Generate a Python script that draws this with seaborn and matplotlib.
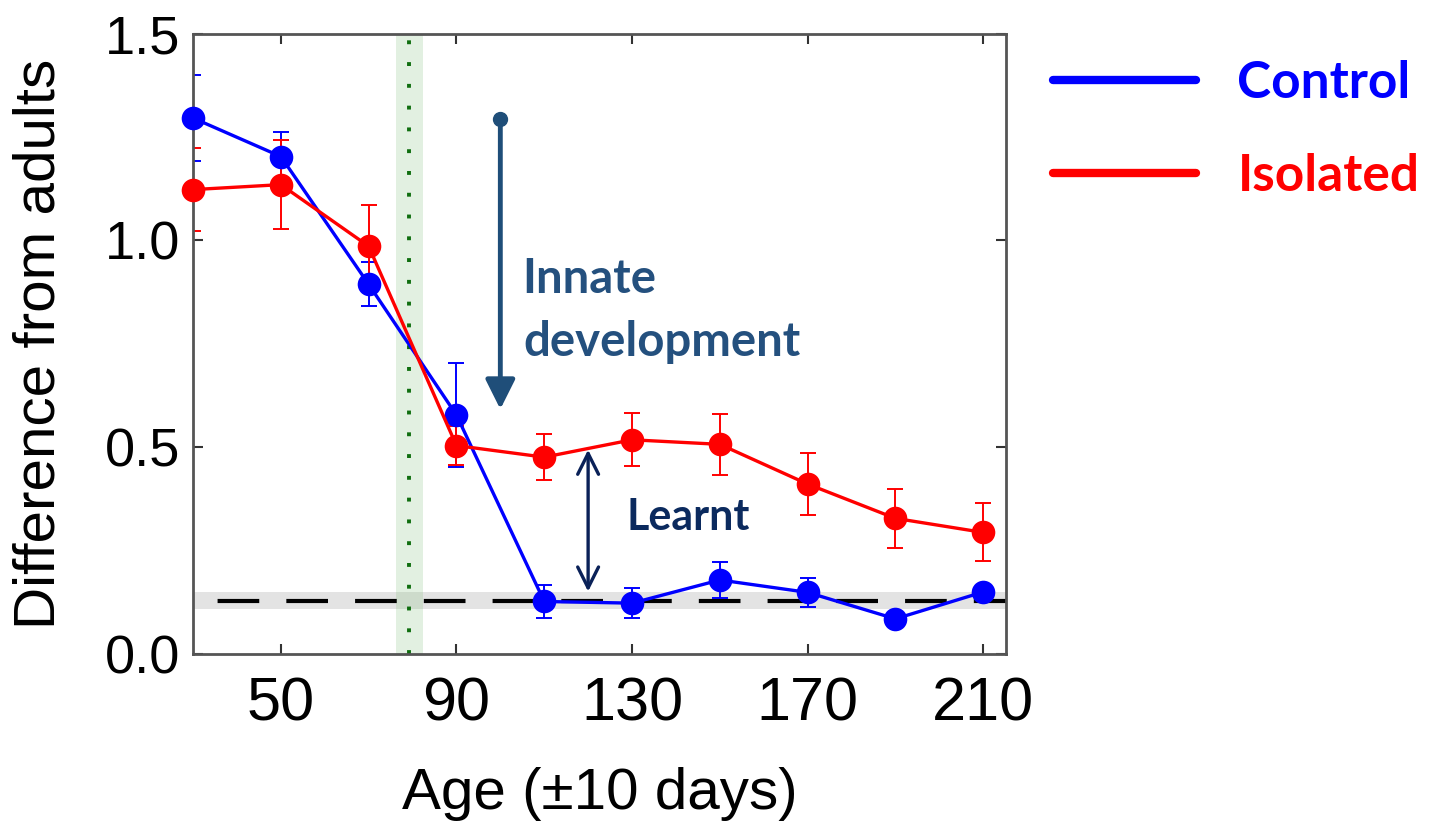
import numpy as np
import pandas as pd
import matplotlib
matplotlib.use("Agg")
import matplotlib.pyplot as plt
from matplotlib.lines import Line2D
import seaborn as sns

# ---- data ----
ages = [30, 50, 70, 90, 110, 130, 150, 170, 190, 210]
control_mean = [1.296, 1.203, 0.894, 0.578, 0.127, 0.123, 0.179, 0.149, 0.085, 0.150]
control_err = [0.105, 0.06, 0.053, 0.125, 0.040, 0.036, 0.044, 0.035, 0.012, 0.015]
isolated_mean = [1.123, 1.135, 0.986, 0.504, 0.476, 0.518, 0.507, 0.411, 0.328, 0.294]
isolated_err = [0.100, 0.107, 0.100, 0.047, 0.055, 0.064, 0.073, 0.076, 0.072, 0.070]
adult_level = 0.129
adult_band = [0.108, 0.151]
critical_age = 79.3
critical_band = [76.2, 82.4]
groups = ["Control", "Isolated"]
colors = {"Control": "#0000ff", "Isolated": "#ff0000"}
xticks = [50, 90, 130, 170, 210]
yticks = [0.0, 0.5, 1.0, 1.5]

df = pd.DataFrame({
    "age": ages * 2,
    "value": control_mean + isolated_mean,
    "group": ["Control"] * len(ages) + ["Isolated"] * len(ages),
})

sns.set_style("ticks")
plt.rcParams["font.family"] = ["Liberation Sans", "DejaVu Sans"]
plt.rcParams["text.color"] = "black"
plt.rcParams["axes.labelcolor"] = "black"

fig, ax = plt.subplots(figsize=(14.45, 8.36), dpi=100)
fig.subplots_adjust(left=0.1336, right=0.6962, top=0.9597, bottom=0.2177)

# background bands and reference lines
ax.axhspan(adult_band[0], adult_band[1], color="#000000", alpha=0.11, lw=0, zorder=0)
ax.axvspan(critical_band[0], critical_band[1], color="#7fbf77", alpha=0.22, lw=0, zorder=0)
ax.axvline(critical_age, color="#0f6e0f", lw=2.8, linestyle=(0, (1.0, 4.6)), zorder=1)
ax.axhline(adult_level, color="black", lw=3, linestyle=(10.6, (10, 6.5)), zorder=1)

# error bars
for g, m, e in [("Control", control_mean, control_err), ("Isolated", isolated_mean, isolated_err)]:
    ax.errorbar(ages, m, yerr=e, fmt="none", ecolor=colors[g], elinewidth=1.4,
                capsize=6, capthick=1.4, zorder=1.5)

sns.lineplot(data=df, x="age", y="value", hue="group", hue_order=groups,
             palette=colors, marker="o", markersize=17, markeredgewidth=0,
             linewidth=2.4, errorbar=None, legend=False, ax=ax)
for ln in ax.lines[-2:]:
    ln.set_clip_on(False)
    ln.set_zorder(3)

ax.set_xlim(30, 215.2)
ax.set_ylim(0, 1.5)
ax.set_xticks(xticks)
ax.set_yticks(yticks)
ax.set_yticklabels([f"{v:.1f}" for v in yticks])

ax.tick_params(axis="both", direction="in", length=7, width=1.5, color="#333333",
               labelcolor="black", top=True, right=True)
ax.tick_params(axis="x", labelsize=44, pad=16)
ax.tick_params(axis="y", labelsize=39, pad=9)
for s in ax.spines.values():
    s.set_color("#555555")
    s.set_linewidth(2)

ax.set_xlabel("Age (±10 days)", fontsize=42, labelpad=24, color="black")
ax.set_ylabel("Difference from adults", fontsize=42, labelpad=28, color="black")

# annotations
innate_col = "#24507e"
ax.annotate("", xy=(100, 0.592), xytext=(100, 1.294),
            arrowprops=dict(arrowstyle="-|>,head_length=0.6,head_width=0.3",
                            lw=3.5, color="#1f4e79", mutation_scale=30,
                            shrinkA=0, shrinkB=0))
ax.plot([100], [1.294], "o", color="#1f4e79", markersize=10, zorder=4)
ax.text(105.0, 0.8727, "Innate", fontsize=34, fontweight="bold", color=innate_col,
        family=["Lato", "DejaVu Sans"], va="baseline", ha="left")
ax.text(105.3, 0.721, "development", fontsize=34, fontweight="bold", color=innate_col,
        family=["Lato", "DejaVu Sans"], va="baseline", ha="left")

ax.annotate("", xy=(120, 0.494), xytext=(120, 0.151),
            arrowprops=dict(arrowstyle="<->,head_length=0.6,head_width=0.3",
                            lw=2.4, color="#0a2158", mutation_scale=25,
                            shrinkA=0, shrinkB=0))
ax.text(128.7, 0.331, "Learnt", fontsize=31, fontweight="bold", color="#0b2a5e",
        family=["Lato", "DejaVu Sans"], va="center", ha="left")

# legend
handles = [Line2D([0], [0], color=colors[g], lw=6) for g in groups]
leg = fig.legend(handles, groups, loc="upper left", bbox_to_anchor=(0.7287, 0.928),
                 frameon=False, handlelength=2.78, handletextpad=0.81,
                 borderaxespad=0, borderpad=0,
                 labelspacing=0.9, prop={"family": ["Lato", "DejaVu Sans"],
                                         "weight": "bold", "size": 37})
for t, g in zip(leg.get_texts(), groups):
    t.set_color(colors[g])

fig.savefig("out.png", dpi=100)
